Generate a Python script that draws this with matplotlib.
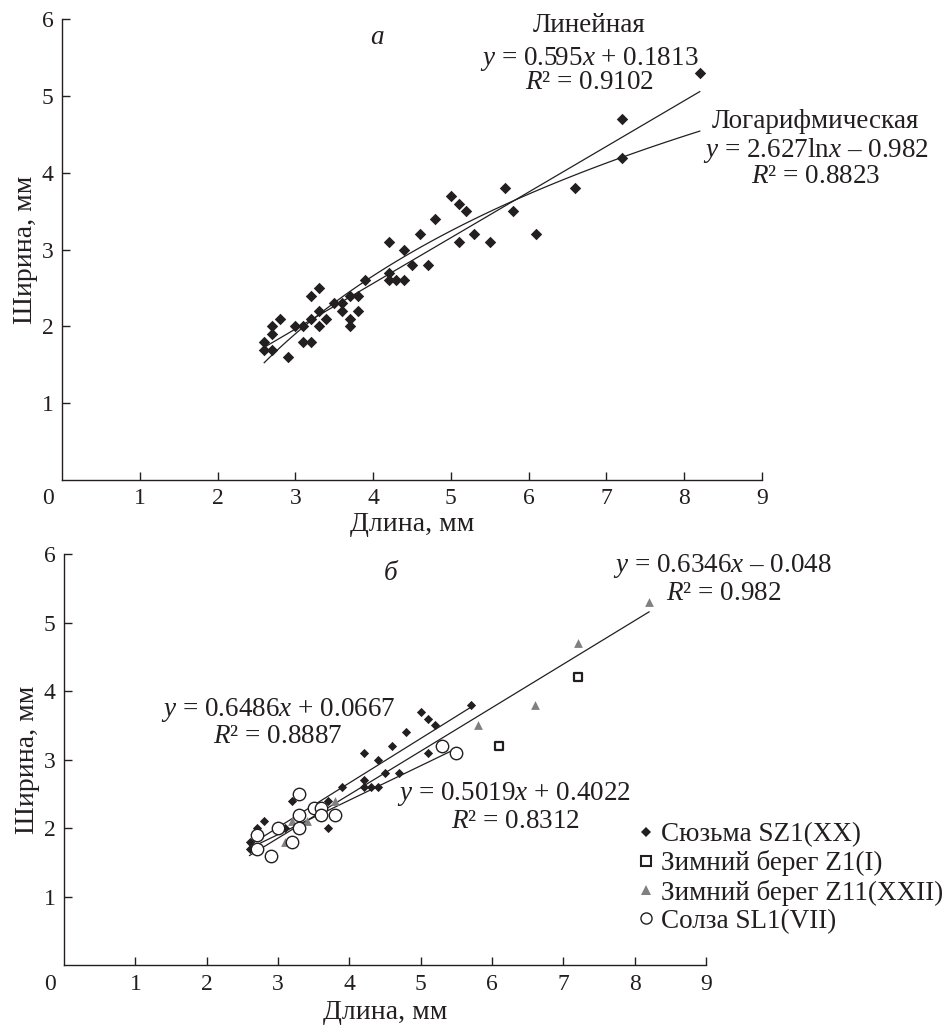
import numpy as np
import matplotlib

matplotlib.use("Agg")
import matplotlib.pyplot as plt
from matplotlib.lines import Line2D

plt.rcParams["font.family"] = ["Liberation Serif", "DejaVu Serif"]
plt.rcParams["mathtext.fontset"] = "custom"
plt.rcParams["mathtext.rm"] = "Liberation Serif"
plt.rcParams["mathtext.it"] = "Liberation Serif:italic"
FS = 19.5       # annotations, legend
FS_LABEL = 20   # axis titles
FS_TICK = 17
plt.rcParams["font.size"] = FS

INK = "#231f20"
GREY = "#808080"

# panel a: all samples together
all_x = [2.6, 2.6, 2.7, 2.7, 2.7, 2.8, 2.9, 3.0, 3.1, 3.1, 3.2, 3.2, 3.2, 3.3, 3.3, 3.3, 3.4,
         3.5, 3.6, 3.6, 3.7, 3.7, 3.7, 3.8, 3.8, 3.9, 4.2, 4.2, 4.2, 4.3, 4.4, 4.4, 4.5, 4.6,
         4.7, 4.8, 5.0, 5.1, 5.1, 5.2, 5.3, 5.5, 5.7, 5.8, 6.1, 6.6, 7.2, 7.2, 8.2]
all_y = [1.8, 1.7, 1.7, 1.9, 2.0, 2.1, 1.6, 2.0, 2.0, 1.8, 1.8, 2.1, 2.4, 2.5, 2.2, 2.0, 2.1,
         2.3, 2.3, 2.2, 2.4, 2.1, 2.0, 2.4, 2.2, 2.6, 3.1, 2.7, 2.6, 2.6, 2.6, 3.0, 2.8, 3.2,
         2.8, 3.4, 3.7, 3.6, 3.1, 3.5, 3.2, 3.1, 3.8, 3.5, 3.2, 3.8, 4.2, 4.7, 5.3]

# panel b: by site
syuzma_x = [2.6, 2.6, 2.7, 2.8, 3.1, 3.2, 3.7, 3.7, 3.9, 4.2, 4.2, 4.2, 4.3, 4.4, 4.4, 4.5,
            4.6, 4.7, 4.8, 5.0, 5.1, 5.1, 5.2, 5.7]
syuzma_y = [1.8, 1.7, 2.0, 2.1, 2.0, 2.4, 2.4, 2.0, 2.6, 3.1, 2.7, 2.6, 2.6, 2.6, 3.0, 2.8,
            3.2, 2.8, 3.4, 3.7, 3.6, 3.1, 3.5, 3.8]
z1_x = [6.1, 7.2]
z1_y = [3.2, 4.2]
z11_x = [3.1, 3.2, 3.4, 3.8, 5.8, 6.6, 7.2, 8.2]
z11_y = [1.8, 2.1, 2.1, 2.4, 3.5, 3.8, 4.7, 5.3]
solza_x = [2.7, 2.7, 2.9, 3.0, 3.2, 3.3, 3.3, 3.3, 3.5, 3.6, 3.6, 3.8, 5.3, 5.5]
solza_y = [1.9, 1.7, 1.6, 2.0, 1.8, 2.0, 2.2, 2.5, 2.3, 2.3, 2.2, 2.2, 3.2, 3.1]

legend_labels = ["Сюзьма SZ1(XX)", "Зимний берег Z1(I)", "Зимний берег Z11(XXII)", "Солза SL1(VII)"]

# trend lines as printed on the chart: (slope, intercept, x range)
lin_a = (0.595, 0.1813, (2.6, 8.2))
log_a = (2.627, -0.982, (2.6, 8.2))
lin_all = (0.6346, -0.048, (2.6, 8.2))
lin_syuzma = (0.6486, 0.0667, (2.6, 5.7))
lin_solza = (0.5019, 0.4022, (2.7, 5.5))


def style_axes(ax, xlabelpad):
    ax.set_xlim(0, 9)
    ax.set_ylim(0, 6)
    for side in ["top", "right"]:
        ax.spines[side].set_visible(False)
    for side in ["left", "bottom"]:
        ax.spines[side].set_linewidth(1.0)
        ax.spines[side].set_color(INK)
    ax.set_xticks(range(1, 10))
    ax.set_yticks(range(1, 7))
    ax.tick_params(direction="in", length=5.5, width=1.0, color=INK, labelcolor=INK,
                   labelsize=FS_TICK)
    ax.tick_params(axis="x", pad=6)
    ax.tick_params(axis="y", pad=6)
    ax.annotate("0", xy=(0, 0), xycoords=("data", "axes fraction"), xytext=(-10, -6),
                textcoords="offset points", ha="center", va="top", color=INK,
                fontsize=FS_TICK)
    ax.set_xlabel("Длина, мм", color=INK, fontsize=FS_LABEL, labelpad=xlabelpad)
    ax.set_ylabel("Ширина, мм", color=INK, fontsize=FS_LABEL, labelpad=3)


def draw_line(ax, coef):
    k, b, (x0, x1) = coef
    xs = np.array([x0, x1])
    ax.plot(xs, k * xs + b, color=INK, lw=0.9, zorder=2)


fig = plt.figure(figsize=(9.46, 10.25), dpi=100)

# --- a
ax1 = fig.add_axes([0.0655, 0.5317, 0.740, 0.4493])
style_axes(ax1, 2)
ax1.scatter(all_x, all_y, marker="D", s=34, color=INK, linewidths=0, zorder=3)
draw_line(ax1, lin_a)
k, b, (x0, x1) = log_a
xs = np.linspace(x0, x1, 80)
ax1.plot(xs, k * np.log(xs) + b, color=INK, lw=0.9, zorder=2)

ax1.text(4.05, 5.76, "а", fontstyle="italic", ha="center", va="center", color=INK)
ax1.text(6.78, 5.84, "Линейная", ha="center", va="baseline", color=INK)
ax1.text(6.78, 5.41, r"$y$ = 0.595$x$ + 0.1813", ha="center", va="baseline", color=INK)
ax1.text(6.78, 5.09, r"$R$² = 0.9102", ha="center", va="baseline", color=INK)
ax1.text(9.69, 4.58, "Логарифмическая", ha="center", va="baseline", color=INK, clip_on=False)
ax1.text(9.69, 4.21, r"$y$ = 2.627ln$x$ – 0.982", ha="center", va="baseline", color=INK,
         clip_on=False)
ax1.text(9.69, 3.87, r"$R$² = 0.8823", ha="center", va="baseline", color=INK,
         clip_on=False)

# --- б
ax2 = fig.add_axes([0.0677, 0.0582, 0.6787, 0.4013])
style_axes(ax2, 4)
draw_line(ax2, lin_all)
draw_line(ax2, lin_syuzma)
draw_line(ax2, lin_solza)
ax2.scatter(syuzma_x, syuzma_y, marker="D", s=22, color=INK, linewidths=0, zorder=3)
ax2.scatter(z1_x, z1_y, marker="s", s=40, facecolor="white", edgecolor=INK, linewidths=1.6,
            zorder=3)
ax2.scatter(z11_x, z11_y, marker="^", s=40, color=GREY, linewidths=0, zorder=3)
ax2.scatter(solza_x, solza_y, marker="o", s=80, facecolor="white", edgecolor=INK,
            linewidths=1.0, zorder=4)

ax2.text(4.58, 5.72, "б", fontstyle="italic", ha="center", va="center", color=INK)
ax2.text(9.23, 5.74, r"$y$ = 0.6346$x$ – 0.048", ha="center", va="baseline", color=INK,
         clip_on=False)
ax2.text(9.25, 5.33, r"$R$² = 0.982", ha="center", va="baseline", color=INK,
         clip_on=False)
ax2.text(3.0, 3.63, r"$y$ = 0.6486$x$ + 0.0667", ha="center", va="baseline", color=INK)
ax2.text(3.0, 3.24, r"$R$² = 0.8887", ha="center", va="baseline", color=INK)
ax2.text(6.31, 2.41, r"$y$ = 0.5019$x$ + 0.4022", ha="center", va="baseline", color=INK)
ax2.text(6.33, 2.00, r"$R$² = 0.8312", ha="center", va="baseline", color=INK)

handles = [
    Line2D([], [], ls="none", marker="D", ms=5, color=INK, mew=0),
    Line2D([], [], ls="none", marker="s", ms=6.5, mfc="white", mec=INK, mew=1.5),
    Line2D([], [], ls="none", marker="^", ms=6.5, color=GREY, mew=0),
    Line2D([], [], ls="none", marker="o", ms=8, mfc="white", mec=INK, mew=1.0),
]
fig.legend(handles, legend_labels, loc="upper left", bbox_to_anchor=(0.673, 0.198),
           frameon=False, fontsize=FS, handlelength=0.7, handletextpad=0.2,
           labelspacing=0.12, borderpad=0, borderaxespad=0, labelcolor=INK)

fig.savefig("out.png", dpi=100)
